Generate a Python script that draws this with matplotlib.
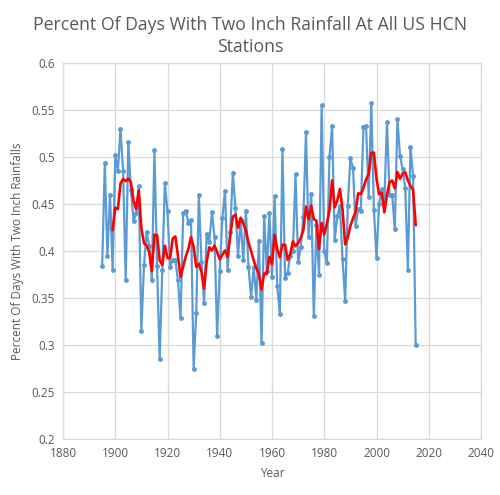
import matplotlib
matplotlib.use("Agg")
import matplotlib.pyplot as plt
import pandas as pd

plt.rcParams['font.family'] = ['Open Sans', 'DejaVu Sans']

years = list(range(1895, 2016))
pct_days = [
    0.384, 0.493, 0.395, 0.460, 0.380, 0.502, 0.485, 0.530, 0.485, 0.369,
    0.516, 0.465, 0.432, 0.440, 0.469, 0.315, 0.385, 0.420, 0.405, 0.369,
    0.507, 0.384, 0.285, 0.380, 0.472, 0.442, 0.383, 0.390, 0.390, 0.369,
    0.329, 0.440, 0.443, 0.430, 0.433, 0.275, 0.334, 0.459, 0.388, 0.345,
    0.418, 0.410, 0.441, 0.415, 0.310, 0.379, 0.435, 0.464, 0.380, 0.420,
    0.483, 0.446, 0.395, 0.433, 0.390, 0.443, 0.383, 0.351, 0.383, 0.348,
    0.411, 0.302, 0.437, 0.379, 0.440, 0.372, 0.458, 0.363, 0.333, 0.508,
    0.371, 0.377, 0.395, 0.400, 0.482, 0.388, 0.404, 0.436, 0.526, 0.415,
    0.461, 0.331, 0.428, 0.374, 0.555, 0.400, 0.387, 0.500, 0.533, 0.412,
    0.437, 0.448, 0.391, 0.347, 0.448, 0.499, 0.488, 0.427, 0.445, 0.443,
    0.532, 0.533, 0.457, 0.557, 0.444, 0.393, 0.450, 0.466, 0.452, 0.537,
    0.460, 0.460, 0.423, 0.540, 0.501, 0.487, 0.467, 0.380, 0.511, 0.480,
    0.300,
]
x_ticks = [1880, 1900, 1920, 1940, 1960, 1980, 2000, 2020, 2040]
y_ticks = [0.2, 0.25, 0.3, 0.35, 0.4, 0.45, 0.5, 0.55, 0.6]
y_tick_labels = ["0.2", "0.25", "0.3", "0.35", "0.4", "0.45", "0.5", "0.55", "0.6"]

series = pd.Series(pct_days, index=years)
avg5 = series.rolling(5).mean()

fig = plt.figure(figsize=(5.0, 4.95), dpi=100)
ax = fig.add_axes([0.126, 0.113, 0.836, 0.760])

grid_c = '#d9d9d9'
text_c = '#595959'

ax.plot(series.index, series.values, color='#5b9bd5', lw=1.6,
        marker='o', markersize=2.5, zorder=3)
ax.plot(avg5.index, avg5.values, color='#ff0000', lw=1.9, zorder=4)

ax.set_xlim(1880, 2040)
ax.set_ylim(0.2, 0.6)
ax.set_xticks(x_ticks)
ax.set_yticks(y_ticks)
ax.set_yticklabels(y_tick_labels)
ax.grid(True, color=grid_c, lw=0.9)
ax.set_axisbelow(True)
for s in ax.spines.values():
    s.set_color(grid_c)
    s.set_linewidth(0.9)
ax.tick_params(length=0, colors=text_c, labelsize=8.5, pad=6)

ax.set_xlabel('Year', color=text_c, fontsize=8.5, labelpad=5)
ax.set_ylabel('Percent Of Days With Two Inch Rainfalls', color=text_c,
              fontsize=8.5, labelpad=5)

fig.text(0.5, 0.968, 'Percent Of Days With Two Inch Rainfall At All US HCN\nStations',
         ha='center', va='top', color=text_c, fontsize=12.7, linespacing=1.3)

fig.savefig('out.png', dpi=100)
